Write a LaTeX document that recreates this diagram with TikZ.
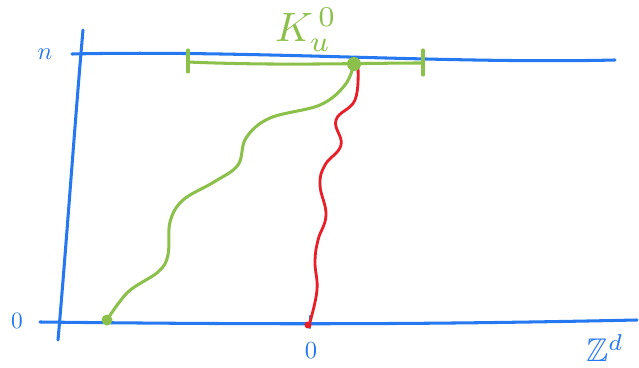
\documentclass[tikz,border=0pt]{standalone}
\usepackage{amsmath}
\usepackage{amssymb}
\usepackage{tikz}

\definecolor{penblue}{RGB}{38,120,240}
\definecolor{pengreen}{RGB}{139,192,74}
\definecolor{penred}{RGB}{232,30,40}

\tikzset{
  axis/.style={penblue, line width=2.6pt, line cap=round},
  greenpen/.style={pengreen, line width=2.6pt, line cap=round},
  redpen/.style={penred, line width=2.4pt, line cap=round},
  lbl/.style={penblue, inner sep=0pt}
}

\begin{document}
\begin{tikzpicture}[x=0.03cm,y=-0.03cm]
\useasboundingbox (0,0) rectangle (639,368);

%%%%% axes
\coordinate (bl) at (40,322); \coordinate (br) at (637,320);
\coordinate (vt) at (83,30); \coordinate (vb) at (58,340);
\coordinate (tl) at (72,54); \coordinate (tr) at (615,60);

\draw[axis] (bl) .. controls (300,325) and (450,324) .. (br);
\draw[axis] (vt) .. controls (75,120) and (66,250) .. (vb);
\draw[axis] (tl) .. controls (250,50) and (450,64) .. (tr);

\coordinate (o) at (310,322);
\draw[axis, line width=2pt] (310,316)--(310,328);

%%%%% labels
\node[lbl] (n) at (45,54) {\scalebox{2.1}{$n$}};
\node[lbl] (zero) at (17,321) {\scalebox{2}{$0$}};
\node[lbl] (orig) at (311,351) {\scalebox{2.1}{$0$}};
\node[lbl] (zd) at (605,348) {\scalebox{2.8}{$\mathbb{Z}^d$}};
\node[pengreen, inner sep=0pt] (ku) at (306,30) {\scalebox{3.5}{$K^{\,0}_{u}$}};

%%%%% green interval K
\coordinate (ka) at (188,62); \coordinate (kb) at (423,63); \coordinate (u) at (354,64);
\draw[greenpen] (ka) .. controls (280,66) and (360,63) .. (kb);
\draw[greenpen] (188,50)--(188,72); \draw[greenpen] (423,50)--(423,75);

%%%%% green path
\coordinate (s) at (107,320);
\draw[greenpen] plot[smooth, tension=0.6] coordinates {(u) (345,85) (320,105) (270,118) (246,138) (238,165) (214,182) (183,200) (170,222) (168,255) (158,272) (128,292) (s)};

%%%%% red path
\coordinate (r0) at (358,68); \coordinate (r1) at (310,322);
\draw[redpen] plot[smooth, tension=0.7] coordinates {(r0) (355,100) (336,120) (341,145) (325,165) (320,185) (326,215) (318,240) (315,262) (317,290) (r1)};

%%%%% dots
\fill[pengreen] (u) circle [radius=7];
\fill[pengreen] (s) circle [radius=5.5];
\fill[penred] (308,325) circle [radius=3.5];

\end{tikzpicture}
\end{document}
